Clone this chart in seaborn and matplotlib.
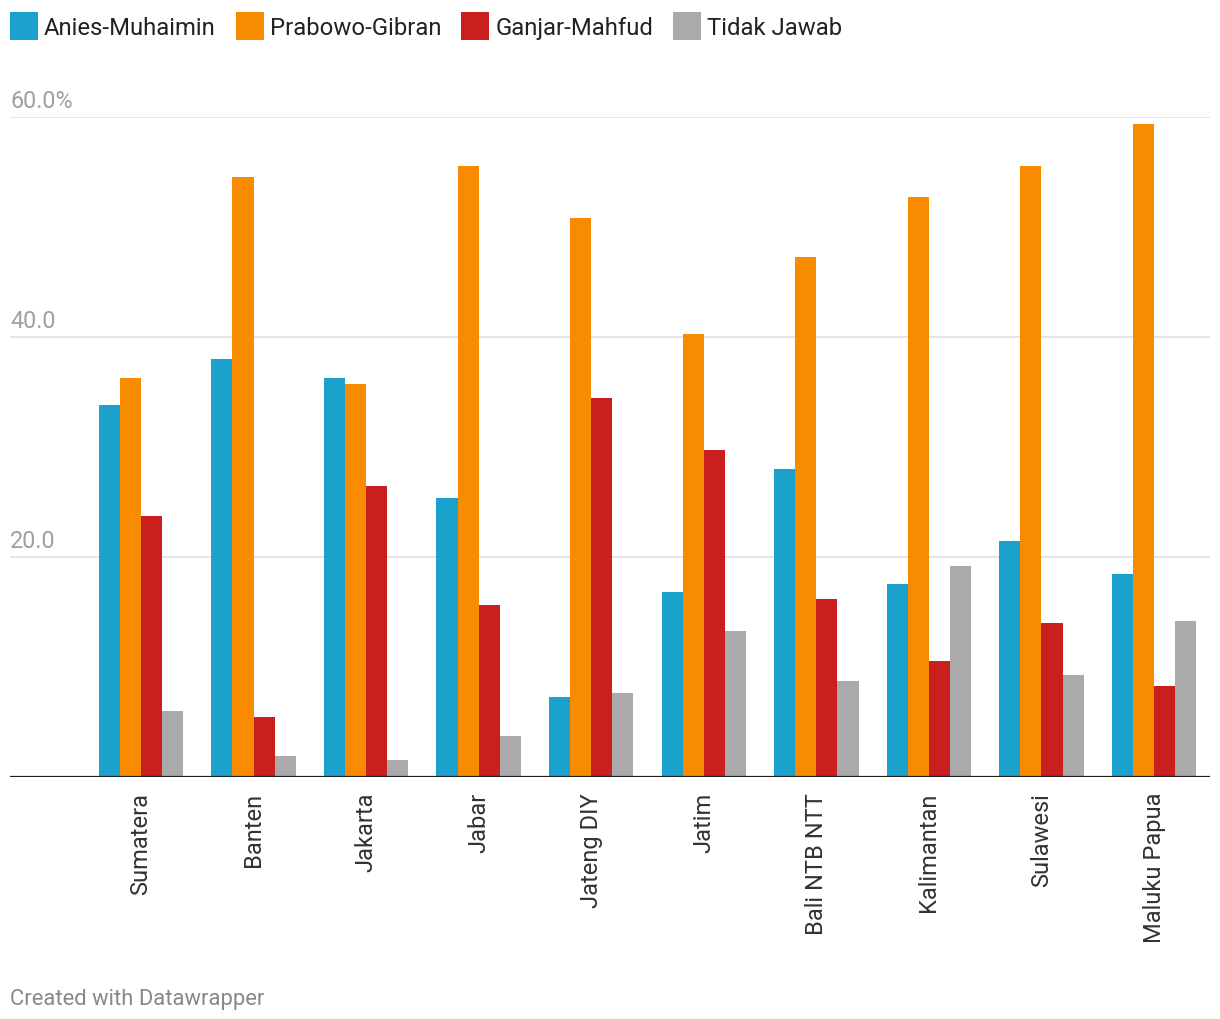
import pandas as pd
import numpy as np
import matplotlib
matplotlib.use("Agg")
import matplotlib.pyplot as plt
import seaborn as sns

# data (percent)
regions = ["Sumatera", "Banten", "Jakarta", "Jabar", "Jateng DIY", "Jatim",
           "Bali NTB NTT", "Kalimantan", "Sulawesi", "Maluku Papua"]
candidates = ["Anies-Muhaimin", "Prabowo-Gibran", "Ganjar-Mahfud", "Tidak Jawab"]

anies = [33.8, 38.0, 36.2, 25.3, 7.2, 16.8, 28.0, 17.5, 21.4, 18.4]
prabowo = [36.2, 54.5, 35.7, 55.5, 50.8, 40.2, 47.2, 52.7, 55.5, 59.3]
ganjar = [23.7, 5.4, 26.4, 15.6, 34.4, 29.7, 16.1, 10.5, 14.0, 8.2]
tidak = [6.0, 1.9, 1.5, 3.7, 7.6, 13.2, 8.7, 19.1, 9.2, 14.1]

colors = ["#1aa2cc", "#f98b00", "#c91f1f", "#aaaaaa"]
ytick_vals = [20, 40, 60]
ytick_labels = ["20.0", "40.0", "60.0%"]

rows = []
for name, vals in zip(candidates, [anies, prabowo, ganjar, tidak]):
    for reg, v in zip(regions, vals):
        rows.append({"region": reg, "candidate": name, "value": v})
df = pd.DataFrame(rows)

sns.set_theme(style="white")
plt.rcParams["font.family"] = ["Roboto", "DejaVu Sans"]

fig = plt.figure(figsize=(12.2, 10.2), dpi=100)
W, H = 1220, 1020
ax = fig.add_axes([10 / W, (H - 777.5) / H, 1200 / W, 660 / H])

sns.barplot(data=df, x="region", y="value", hue="candidate", order=regions,
            hue_order=candidates, palette=dict(zip(candidates, colors)),
            width=0.75, saturation=1, linewidth=0, ax=ax)

ax.set_xlim(-1.164, 9.4975)
ax.set_ylim(0, 60)
for s in ax.spines.values():
    s.set_visible(False)

for v in ytick_vals:
    ax.axhline(v, color="#e3e3e3", lw=1.3, zorder=0)
ax.axhline(0, color="#1d1d1d", lw=1.6, zorder=5)

ax.set_yticks([])
for v, lab in zip(ytick_vals, ytick_labels):
    ax.text(0, v + 0.85, lab, transform=ax.get_yaxis_transform(),
            ha="left", va="baseline", fontsize=16.8, color="#a0a0a0")

ax.set_xlabel("")
ax.set_ylabel("")
ax.tick_params(axis="x", length=0, pad=11, labelsize=17, labelcolor="#333333")
plt.setp(ax.get_xticklabels(), rotation=90, ha="center", va="top")

handles, labels = ax.get_legend_handles_labels()
ax.get_legend().remove()
fig.legend(handles, labels, loc="upper left", bbox_to_anchor=(10 / W, 1 - 13 / H),
           ncol=4, frameon=False, fontsize=17.2, handlelength=1.17, handleheight=1.4,
           handletextpad=0.25, columnspacing=0.84, borderpad=0, borderaxespad=0,
           labelcolor="#222222")

fig.text(10 / W, 1 - 1005 / H, "Created with Datawrapper", fontsize=15.8,
         color="#888888", ha="left", va="baseline")

fig.savefig("out.png", dpi=100)
